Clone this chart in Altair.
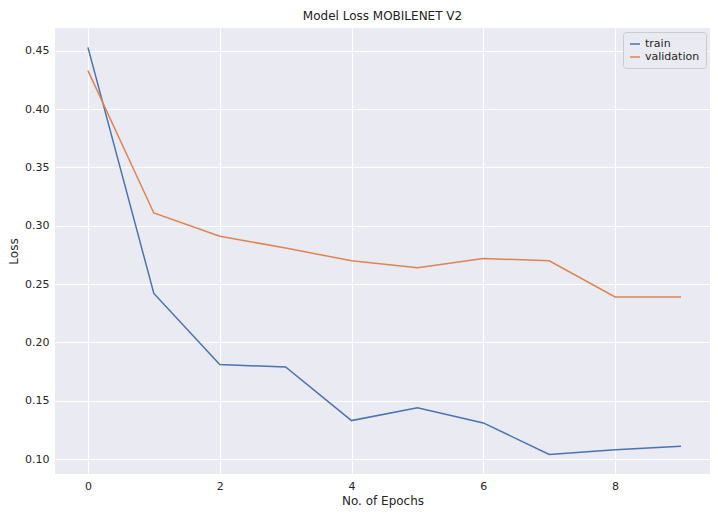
import altair as alt
import pandas as pd

epochs = list(range(10))
train = [0.453, 0.242, 0.181, 0.179, 0.133, 0.144, 0.131, 0.104, 0.108, 0.111]
validation = [0.433, 0.311, 0.291, 0.281, 0.270, 0.264, 0.272, 0.270, 0.239, 0.239]

df = pd.concat([
    pd.DataFrame({"epoch": epochs, "loss": train, "series": "train"}),
    pd.DataFrame({"epoch": epochs, "loss": validation, "series": "validation"}),
])

chart = (
    alt.Chart(df)
    .mark_line(strokeWidth=1.5)
    .encode(
        x=alt.X("epoch:Q", title="No. of Epochs",
                scale=alt.Scale(domain=[-0.5, 9.44], nice=False, zero=False),
                axis=alt.Axis(values=[0, 2, 4, 6, 8], format="d", titlePadding=4)),
        y=alt.Y("loss:Q", title="Loss",
                scale=alt.Scale(domain=[0.0872, 0.4696], nice=False, zero=False),
                axis=alt.Axis(values=[0.10, 0.15, 0.20, 0.25, 0.30, 0.35, 0.40, 0.45], format=".2f")),
        color=alt.Color("series:N",
                        scale=alt.Scale(domain=["train", "validation"], range=["#4C72B0", "#DD8452"]),
                        legend=alt.Legend(title=None, orient="top-right", symbolType="stroke",
                                          fillColor="#EAEAF2", strokeColor="#cccccc",
                                          padding=6, cornerRadius=3, labelFontSize=11,
                                          symbolStrokeWidth=1.5, offset=4)),
    )
    .properties(
        width=655, height=446,
        title=alt.TitleParams("Model Loss MOBILENET V2", fontSize=12, fontWeight="normal",
                              color="#222222", offset=5),
        autosize=alt.AutoSizeParams(type="none"),
        padding={"left": 47, "top": 20, "right": 0, "bottom": 36},
    )
    .configure_view(fill="#EAEAF2", stroke=None)
    .configure_axis(domain=False, ticks=False, grid=True, gridColor="white", gridWidth=1,
                    labelFont="DejaVu Sans", titleFont="DejaVu Sans", labelFontSize=11,
                    titleFontSize=12, titleFontWeight="normal", labelColor="#262626",
                    titleColor="#262626", labelPadding=6)
    .configure_title(font="DejaVu Sans")
    .configure_legend(labelFont="DejaVu Sans", labelColor="#262626")
)

chart.save("out.html", embed_options={"renderer": "svg", "actions": False})
